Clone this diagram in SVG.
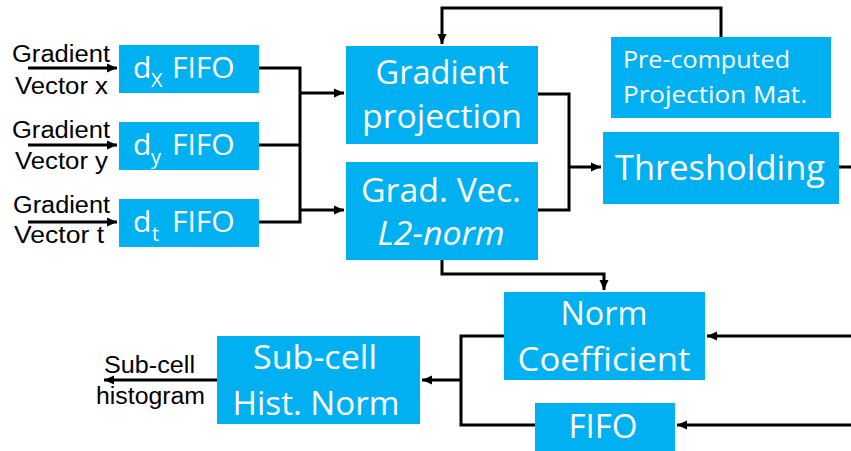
<svg xmlns="http://www.w3.org/2000/svg" width="851" height="451" viewBox="0 0 851 451">
<style>
.box{fill:#00B0F0}
.bt{font-family:"Open Sans","Noto Sans",sans-serif;fill:#fff;font-size:32px;text-anchor:middle}
.ft{font-family:"Open Sans","Noto Sans",sans-serif;fill:#fff;font-size:30px}
.sub{font-family:"Open Sans","Noto Sans",sans-serif;fill:#fff;font-size:20px}
.lab{font-family:"Liberation Sans",Arial,sans-serif;fill:#000;font-size:23px}
.ln{fill:none;stroke:#000;stroke-width:3}
</style>
<defs>
<marker id="ah" markerUnits="userSpaceOnUse" markerWidth="12" markerHeight="10" refX="10" refY="5" orient="auto">
<path d="M0,0.5 L10,5 L0,9.5 Z" fill="#000"/>
</marker>
</defs>
<rect width="851" height="451" fill="#fff"/>

<g id="connectors">
<path class="ln" d="M28,68 H117" marker-end="url(#ah)"/>
<path class="ln" d="M28,145 H117" marker-end="url(#ah)"/>
<path class="ln" d="M28,222 H117" marker-end="url(#ah)"/>
<path class="ln" d="M259,68 H300 M259,145 H300 M259,222 H300 M300,66.5 V223.5"/>
<path class="ln" d="M300,93 H344" marker-end="url(#ah)"/>
<path class="ln" d="M300,210 H344" marker-end="url(#ah)"/>
<path class="ln" d="M538,94 H569 V210 H538"/>
<path class="ln" d="M569,167 H601" marker-end="url(#ah)"/>
<path class="ln" d="M839,167 H851"/>
<path class="ln" d="M721,37 V8 H442 V44" marker-end="url(#ah)"/>
<path class="ln" d="M442,260 V274 H604 V290" marker-end="url(#ah)"/>
<path class="ln" d="M851,336 H707" marker-end="url(#ah)"/>
<path class="ln" d="M851,425 H677" marker-end="url(#ah)"/>
<path class="ln" d="M504,336 H461 V425 H535"/>
<path class="ln" d="M461,380 H422" marker-end="url(#ah)"/>
<path class="ln" d="M217,380 H104" marker-end="url(#ah)"/>
</g>

<g id="in-x">
<text class="lab" x="12" y="62" textLength="98" lengthAdjust="spacingAndGlyphs">Gradient</text>
<text class="lab" x="15" y="94" textLength="93" lengthAdjust="spacingAndGlyphs">Vector x</text>
</g>
<g id="in-y">
<text class="lab" x="12" y="138" textLength="98" lengthAdjust="spacingAndGlyphs">Gradient</text>
<text class="lab" x="15" y="169" textLength="93" lengthAdjust="spacingAndGlyphs">Vector y</text>
</g>
<g id="in-t">
<text class="lab" x="13" y="213" textLength="97" lengthAdjust="spacingAndGlyphs">Gradient</text>
<text class="lab" x="14" y="243" textLength="90" lengthAdjust="spacingAndGlyphs">Vector t</text>
</g>

<g id="dx-fifo">
<rect class="box" x="119" y="45" width="140" height="48"/>
<text class="ft" x="133" y="78">d</text>
<text class="sub" x="151" y="87">X</text>
<text class="ft" x="172" y="78">FIFO</text>
</g>
<g id="dy-fifo">
<rect class="box" x="119" y="122" width="140" height="48"/>
<text class="ft" x="133" y="155">d</text>
<text class="sub" x="151" y="164">y</text>
<text class="ft" x="172" y="155">FIFO</text>
</g>
<g id="dt-fifo">
<rect class="box" x="119" y="199" width="140" height="48"/>
<text class="ft" x="133" y="232">d</text>
<text class="sub" x="152" y="241">t</text>
<text class="ft" x="172" y="232">FIFO</text>
</g>

<g id="gradient-projection">
<rect class="box" x="346" y="46" width="192" height="98"/>
<text class="bt" x="442" y="84" textLength="133" lengthAdjust="spacingAndGlyphs">Gradient</text>
<text class="bt" x="442" y="128" textLength="160" lengthAdjust="spacingAndGlyphs">projection</text>
</g>

<g id="grad-vec-l2">
<rect class="box" x="346" y="162" width="192" height="98"/>
<text class="bt" x="441" y="202" textLength="160" lengthAdjust="spacingAndGlyphs">Grad. Vec.</text>
<text class="bt" x="441" y="245" font-style="italic" textLength="127" lengthAdjust="spacingAndGlyphs">L2-norm</text>
</g>

<g id="precomputed">
<rect class="box" x="611" y="37" width="220" height="81"/>
<text class="bt" x="623" y="68" style="text-anchor:start;font-size:24px" textLength="167" lengthAdjust="spacingAndGlyphs">Pre-computed</text>
<text class="bt" x="623" y="103" style="text-anchor:start;font-size:24px" textLength="184" lengthAdjust="spacingAndGlyphs">Projection Mat.</text>
</g>

<g id="thresholding">
<rect class="box" x="603" y="132" width="236" height="72"/>
<text class="bt" x="720" y="180" style="font-size:35px" textLength="210" lengthAdjust="spacingAndGlyphs">Thresholding</text>
</g>

<g id="norm-coefficient">
<rect class="box" x="504" y="292" width="201" height="88"/>
<text class="bt" x="604" y="325" textLength="87" lengthAdjust="spacingAndGlyphs">Norm</text>
<text class="bt" x="604" y="371" textLength="173" lengthAdjust="spacingAndGlyphs">Coefficient</text>
</g>

<g id="fifo">
<rect class="box" x="535" y="403" width="140" height="48"/>
<text class="bt" x="603" y="438" textLength="69" lengthAdjust="spacingAndGlyphs">FIFO</text>
</g>

<g id="subcell-hist-norm">
<rect class="box" x="217" y="336" width="203" height="88"/>
<text class="bt" x="315" y="369" textLength="124" lengthAdjust="spacingAndGlyphs">Sub-cell</text>
<text class="bt" x="316" y="415" textLength="167" lengthAdjust="spacingAndGlyphs">Hist. Norm</text>
</g>

<g id="out-label">
<text class="lab" x="104" y="373" textLength="91" lengthAdjust="spacingAndGlyphs">Sub-cell</text>
<text class="lab" x="96" y="404" textLength="109" lengthAdjust="spacingAndGlyphs">histogram</text>
</g>
</svg>
